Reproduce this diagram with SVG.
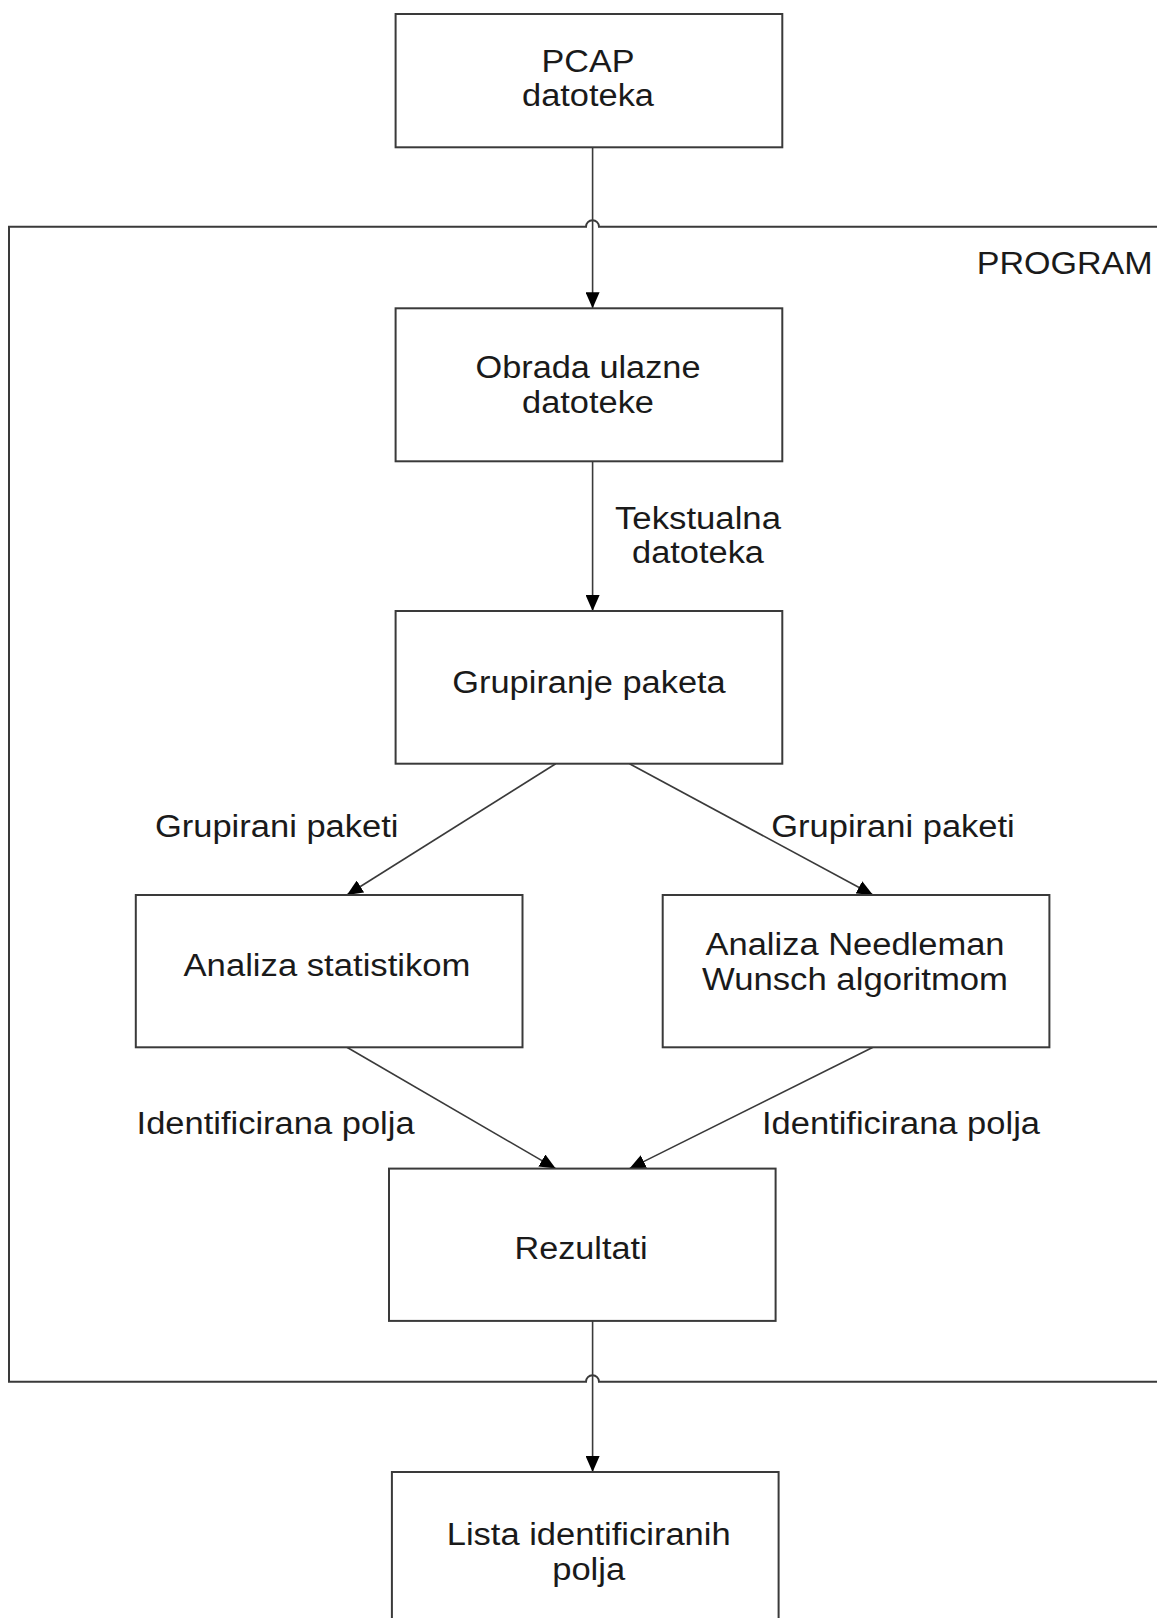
<svg xmlns="http://www.w3.org/2000/svg" width="1157" height="1618" viewBox="0 0 1157 1618">
<style>
  .box { fill: #ffffff; stroke: #3a3a3a; stroke-width: 2; }
  .frame { fill: none; stroke: #3a3a3a; stroke-width: 2; }
  .conn { fill: none; stroke: #3a3a3a; stroke-width: 1.6; }
  text { font-family: "Liberation Sans", Arial, sans-serif; font-size: 31px; fill: #1a1a1a; }
  .c { text-anchor: middle; }
</style>
<defs>
  <marker id="arr" viewBox="0 0 16 14" refX="16" refY="7" markerWidth="16" markerHeight="14" markerUnits="userSpaceOnUse" orient="auto">
    <path d="M0,0 L16,7 L0,14 Z" fill="#000000"/>
  </marker>
</defs>
<rect width="1157" height="1618" fill="#ffffff"/>

<g id="program-frame">
  <path class="frame" d="M1170,226.7 H599 A6.5,6.5 0 0 0 586,226.7 H9 V1381.7 H586 A6.5,6.5 0 0 1 599,1381.7 H1170"/>
  <text x="976.7" y="274" textLength="176" lengthAdjust="spacingAndGlyphs">PROGRAM</text>
</g>

<g id="connectors">
  <path class="conn" d="M592.6,147.3 V308.3" marker-end="url(#arr)"/>
  <path class="conn" d="M592.6,461.3 V611" marker-end="url(#arr)"/>
  <path class="conn" d="M555.7,763.7 L346.9,895" marker-end="url(#arr)"/>
  <path class="conn" d="M629.5,763.7 L873,895" marker-end="url(#arr)"/>
  <path class="conn" d="M346.9,1047.3 L555.7,1168.6" marker-end="url(#arr)"/>
  <path class="conn" d="M873,1047.3 L629.5,1168.6" marker-end="url(#arr)"/>
  <path class="conn" d="M592.6,1320.9 V1472" marker-end="url(#arr)"/>
  <text class="c" x="698" y="529" textLength="166" lengthAdjust="spacingAndGlyphs">Tekstualna</text>
  <text class="c" x="698" y="563" textLength="132" lengthAdjust="spacingAndGlyphs">datoteka</text>
  <text class="c" x="276.7" y="836.7" textLength="243.5" lengthAdjust="spacingAndGlyphs">Grupirani paketi</text>
  <text class="c" x="893" y="836.7" textLength="243.5" lengthAdjust="spacingAndGlyphs">Grupirani paketi</text>
  <text class="c" x="275.6" y="1134" textLength="278" lengthAdjust="spacingAndGlyphs">Identificirana polja</text>
  <text class="c" x="901" y="1134" textLength="278" lengthAdjust="spacingAndGlyphs">Identificirana polja</text>
</g>

<g id="pcap">
  <rect class="box" x="395.6" y="14" width="386.7" height="133.3"/>
  <text class="c" x="588" y="72" textLength="93" lengthAdjust="spacingAndGlyphs">PCAP</text>
  <text class="c" x="588" y="106" textLength="132" lengthAdjust="spacingAndGlyphs">datoteka</text>
</g>

<g id="obrada">
  <rect class="box" x="395.6" y="308.3" width="386.7" height="153"/>
  <text class="c" x="588" y="378" textLength="225" lengthAdjust="spacingAndGlyphs">Obrada ulazne</text>
  <text class="c" x="588" y="413" textLength="132" lengthAdjust="spacingAndGlyphs">datoteke</text>
</g>

<g id="grupiranje">
  <rect class="box" x="395.6" y="611" width="386.7" height="152.7"/>
  <text class="c" x="589" y="693" textLength="273.5" lengthAdjust="spacingAndGlyphs">Grupiranje paketa</text>
</g>

<g id="statistika">
  <rect class="box" x="135.8" y="895" width="386.7" height="152.3"/>
  <text class="c" x="327" y="976" textLength="287" lengthAdjust="spacingAndGlyphs">Analiza statistikom</text>
</g>

<g id="needleman">
  <rect class="box" x="662.7" y="895" width="386.7" height="152.3"/>
  <text class="c" x="855" y="955" textLength="299" lengthAdjust="spacingAndGlyphs">Analiza Needleman</text>
  <text class="c" x="855" y="990" textLength="306" lengthAdjust="spacingAndGlyphs">Wunsch algoritmom</text>
</g>

<g id="rezultati">
  <rect class="box" x="389" y="1168.6" width="386.6" height="152.3"/>
  <text class="c" x="581" y="1259" textLength="133" lengthAdjust="spacingAndGlyphs">Rezultati</text>
</g>

<g id="lista">
  <rect class="box" x="391.9" y="1472" width="386.7" height="160"/>
  <text class="c" x="588.7" y="1545" textLength="284" lengthAdjust="spacingAndGlyphs">Lista identificiranih</text>
  <text class="c" x="588.7" y="1580" textLength="73" lengthAdjust="spacingAndGlyphs">polja</text>
</g>
</svg>
